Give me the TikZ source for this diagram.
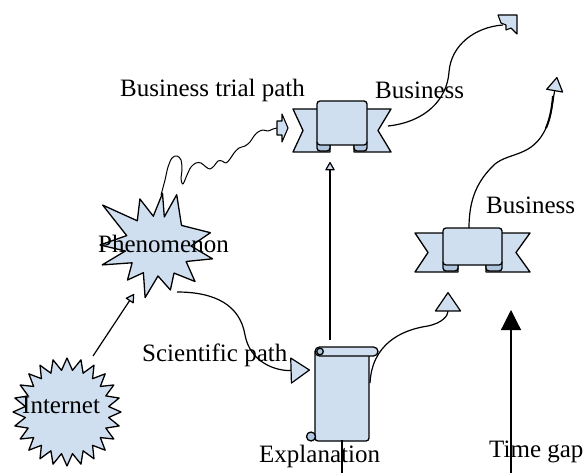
\documentclass[tikz,border=0pt]{standalone}
\usepackage{fontspec}
\setmainfont{Liberation Serif}
\usetikzlibrary{arrows.meta}
\definecolor{paleblue}{RGB}{207,223,240}
\definecolor{foldblue}{RGB}{176,198,222}
\begin{document}
\begin{tikzpicture}[x=1pt,y=-1pt,
  lbl/.style={inner sep=0pt, font=\fontsize{25}{29}\selectfont, anchor=base west},
  shapeline/.style={draw=black, line width=1.3pt, line join=round, fill=paleblue},
  fold/.style={draw=black, line width=1.3pt, line join=round, fill=foldblue},
  link/.style={draw=black, line width=1.2pt},
  smalltip/.style={-{Triangle[length=9pt,width=10pt,fill=paleblue,round]}},
  bigtip/.style={-{Triangle[length=20pt,width=27pt,fill=paleblue,round]}},
  midtip/.style={-{Triangle[length=15pt,width=18pt,fill=paleblue,round]}},
  blacktip/.style={-{Triangle[length=20pt,width=20pt]}}
]
\useasboundingbox (0,0) rectangle (586,473);

% ---------- attachment points ----------
\coordinate (net-out)    at (93,356);
\coordinate (phen-in)    at (134,294);
\coordinate (phen-out)   at (177,292);
\coordinate (phen-top)   at (161,195);
\coordinate (trial-tail) at (277,128);
\coordinate (sci-tip)    at (310,370);
\coordinate (scroll-top) at (330,340);
\coordinate (rib1-low)   at (330,162);
\coordinate (scroll-rt)  at (370,383);
\coordinate (tri-tip)    at (448,292);
\coordinate (rib1-rt)    at (388,126);
\coordinate (notch-tail) at (503,25);
\coordinate (rib2-top)   at (469,228);
\coordinate (rib2-tip)   at (557,77);
\coordinate (gap-foot)   at (511,473);
\coordinate (gap-tip)    at (511,310);
\coordinate (expl-a)     at (342,440);
\coordinate (expl-b)     at (342,473);

% ---------- Internet burst ----------
\path[shapeline] plot[samples at={0,...,47}, variable=\k]
  ({67+cos(\k*7.5)*ifthenelse(mod(\k,2)==0,54,42)},
   {412+sin(\k*7.5)*ifthenelse(mod(\k,2)==0,54,42)}) -- cycle;

% ---------- Phenomenon burst ----------
\path[shapeline] (162.5,193.3) -- (164.3,216.9) -- (176.7,194.7) -- (181.5,225.4)
  -- (210.4,232.7) -- (191,246) -- (212.5,258.8) -- (186.1,261.5) -- (195,281.5)
  -- (174,273.1) -- (170.4,290) -- (158,276) -- (145.1,297.6) -- (143.4,272.7)
  -- (127.5,280) -- (132.1,262.8) -- (102.2,264.9) -- (125.4,251) -- (100,245)
  -- (126.7,235.6) -- (102.7,205.1) -- (137.3,220.8) -- (139.9,199)
  -- (153.3,216.2) -- cycle;

% ---------- upper banner ----------
\path[shapeline] (320,109) -- (293,109) -- (303,130.5) -- (293,152) -- (330,152) -- (330,140) -- cycle;
\path[shapeline] (364,109) -- (391,109) -- (378,130.5) -- (391,152) -- (354,152) -- (354,140) -- cycle;
\path[fold, rounded corners=3] (317,140) -- (317,151) -- (330,151) -- (330,140) -- cycle;
\path[fold, rounded corners=3] (367,140) -- (367,151) -- (354,151) -- (354,140) -- cycle;
\path[shapeline, rounded corners=3] (317,101) rectangle (367,145);

% ---------- lower banner ----------
\path[shapeline] (446,233) -- (415,233) -- (428,252.5) -- (415,272) -- (458,272) -- (458,262) -- cycle;
\path[shapeline] (499,233) -- (530,233) -- (516,252.5) -- (530,272) -- (486,272) -- (486,262) -- cycle;
\path[fold, rounded corners=3] (443,260) -- (443,271) -- (458,271) -- (458,260) -- cycle;
\path[fold, rounded corners=3] (502,260) -- (502,271) -- (486,271) -- (486,260) -- cycle;
\path[shapeline, rounded corners=3] (443,228) rectangle (502,265);

% ---------- scroll ----------
\path[shapeline, rounded corners=3] (315,350) -- (315,441) -- (369,441) -- (369,350) -- cycle;
\path[shapeline, rounded corners=4.5] (315,347) rectangle (378,356);
\path[fold] (320,351.5) circle (3.3);
\path[fold] (311,436.5) circle (4.5);

% ---------- connectors ----------
\draw[link, smalltip] (net-out) -- (phen-in);

\draw[link, bigtip] (phen-out) .. controls (215,292) and (240,305) .. (245,335)
  .. controls (250,362) and (275,371) .. (sci-tip);

\draw[link, line width=1pt, line join=round] plot[smooth, tension=0.55] coordinates {
  (phen-top) (165,180) (168,167) (172,158) (177,156) (181,160) (182,170) (181,179)
  (183,184) (187,175) (191,167) (196,163) (201,163) (206,167) (210,169) (214,166)
  (218,161) (222,161) (226,163) (230,159) (234,153) (239,148) (245,146) (250,142)
  (254,136) (258,132) (263,130) (268,131) (273,129) (trial-tail)};
\path[shapeline, line width=1.1pt] (277,121) -- (282,121) -- (282,114) -- (288,128)
  -- (282,142) -- (282,135) -- (277,135) -- cycle;

\draw[link, smalltip] (scroll-top) -- (rib1-low);

\draw[link, bigtip] (scroll-rt) .. controls (372,345) and (400,330) .. (428,326)
  .. controls (442,323) and (448,316) .. (tri-tip);

\draw[link] (rib1-rt) .. controls (425,122) and (447,100) .. (449,72)
  .. controls (451,45) and (475,27) .. (notch-tail);
\path[shapeline, line width=1.1pt] (498,15) -- (517,15) -- (517,34) -- (511,28)
  -- (506,30) -- (506,25) -- (501,23) -- cycle;

\draw[link, midtip] (rib2-top) .. controls (469,198) and (478,180) .. (495,164)
  .. controls (510,152) and (533,157) .. (546,128)
  .. controls (551,117) and (553,100) .. (rib2-tip);
\draw[line width=2pt] (546,128) .. controls (550,119) and (552,108) .. (553,96);

\draw[link, blacktip] (gap-foot) -- (gap-tip);
\draw[link] (expl-a) -- (expl-b);

% ---------- labels ----------
\node[lbl] (trial)  at (120,97)  {Business trial path};
\node[lbl] (bus1)   at (375,99)  {Business};
\node[lbl] (bus2)   at (486,213) {Business};
\node[lbl] (phen)   at (98,252)  {Phenomenon};
\node[lbl] (sci)    at (142,361) {Scientific path};
\node[lbl] (net)    at (22,413)  {Internet};
\node[lbl] (expl)   at (259,462) {Explanation};
\node[lbl] (gap)    at (489,457) {Time gap};
\end{tikzpicture}
\end{document}
